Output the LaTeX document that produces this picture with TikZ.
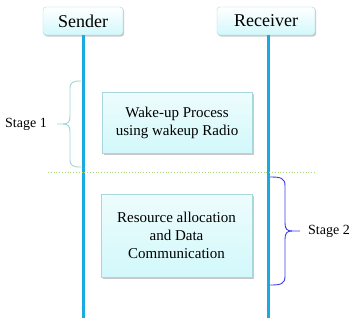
\documentclass[tikz,border=0pt]{standalone}
\usepackage{fontspec}
\setmainfont{Liberation Serif}
\usetikzlibrary{positioning,shadows}
\definecolor{lifeBlue}{RGB}{26,170,226}
\definecolor{boxEdge}{RGB}{168,216,222}
\definecolor{boxTop}{RGB}{238,252,252}
\definecolor{boxBottom}{RGB}{210,248,251}
\definecolor{stageTeal}{RGB}{160,212,216}
\definecolor{stageBlue}{RGB}{60,60,235}
\definecolor{sepGreen}{RGB}{166,214,120}
\tikzset{
  actor/.style={draw=boxEdge, rounded corners=3pt, top color=white, bottom color=boxBottom,
    minimum height=28pt, inner sep=0pt, font=\fontsize{18}{21}\selectfont,
    drop shadow={shadow xshift=1.2pt, shadow yshift=-1.5pt, opacity=0.3, fill=black!70}},
  phase/.style={draw=boxEdge, top color=boxTop, bottom color=boxBottom, align=center,
    inner sep=0pt, font=\fontsize{15}{18}\selectfont,
    drop shadow={shadow xshift=1.5pt, shadow yshift=-2pt, opacity=0.3, fill=black!70}},
  lifeline/.style={lifeBlue, line width=3pt},
  stagebrace/.style={line width=0.9pt},
  stagelabel/.style={font=\fontsize{14}{16}\selectfont, inner sep=0pt},
}
\begin{document}
\begin{tikzpicture}[x=1pt,y=-1pt]
\useasboundingbox (0,0) rectangle (355,327);

% participants
\node[actor, minimum width=80pt] (sender) at (83,21) {Sender};
\node[actor, minimum width=98pt] (receiver) at (266,21) {Receiver};
\coordinate (senderEnd) at (83.5,318);
\coordinate (receiverEnd) at (268.5,318);
\draw[lifeline] (sender.south -| senderEnd) -- (senderEnd);
\draw[lifeline] (receiver.south -| receiverEnd) -- (receiverEnd);

% phases
\node[phase, minimum width=150pt, minimum height=61pt] (wakeup) at (177,122.5)
  {Wake-up Process\\using wakeup Radio};
\node[phase, minimum width=151pt, minimum height=83pt] (resource) at (176.5,235.5)
  {Resource allocation\\and Data\\Communication};

% separator
\coordinate (sepL) at (48,172.5);
\coordinate (sepR) at (316,172.5);
\draw[sepGreen, dotted, line width=0.8pt] (sepL) -- (sepR);

% stage 1 brace
\coordinate (s1top) at (81,81);
\coordinate (s1bot) at (81,167);
\coordinate (s1tip) at (57,124);
\draw[stagebrace, stageTeal] (s1top) .. controls (73,81) and (70,82) .. (70,89) -- (70,116)
  .. controls (70,122) and (68,124) .. (63,124) -- (s1tip);
\draw[stagebrace, stageTeal] (s1bot) .. controls (73,167) and (70,166) .. (70,159) -- (70,132)
  .. controls (70,126) and (68,124) .. (63,124);
\node[stagelabel] (stage1) at (26,124) {Stage 1};

% stage 2 brace
\coordinate (s2top) at (270,177);
\coordinate (s2bot) at (270,285);
\coordinate (s2tip) at (300,231);
\draw[stagebrace, stageBlue] (s2top) .. controls (281,177) and (285,178) .. (285,186) -- (285,223)
  .. controls (285,229) and (287,231) .. (292,231) -- (s2tip);
\draw[stagebrace, stageBlue] (s2bot) .. controls (281,285) and (285,284) .. (285,276) -- (285,239)
  .. controls (285,233) and (287,231) .. (292,231);
\node[stagelabel] (stage2) at (329,231) {Stage 2};
\end{tikzpicture}
\end{document}
